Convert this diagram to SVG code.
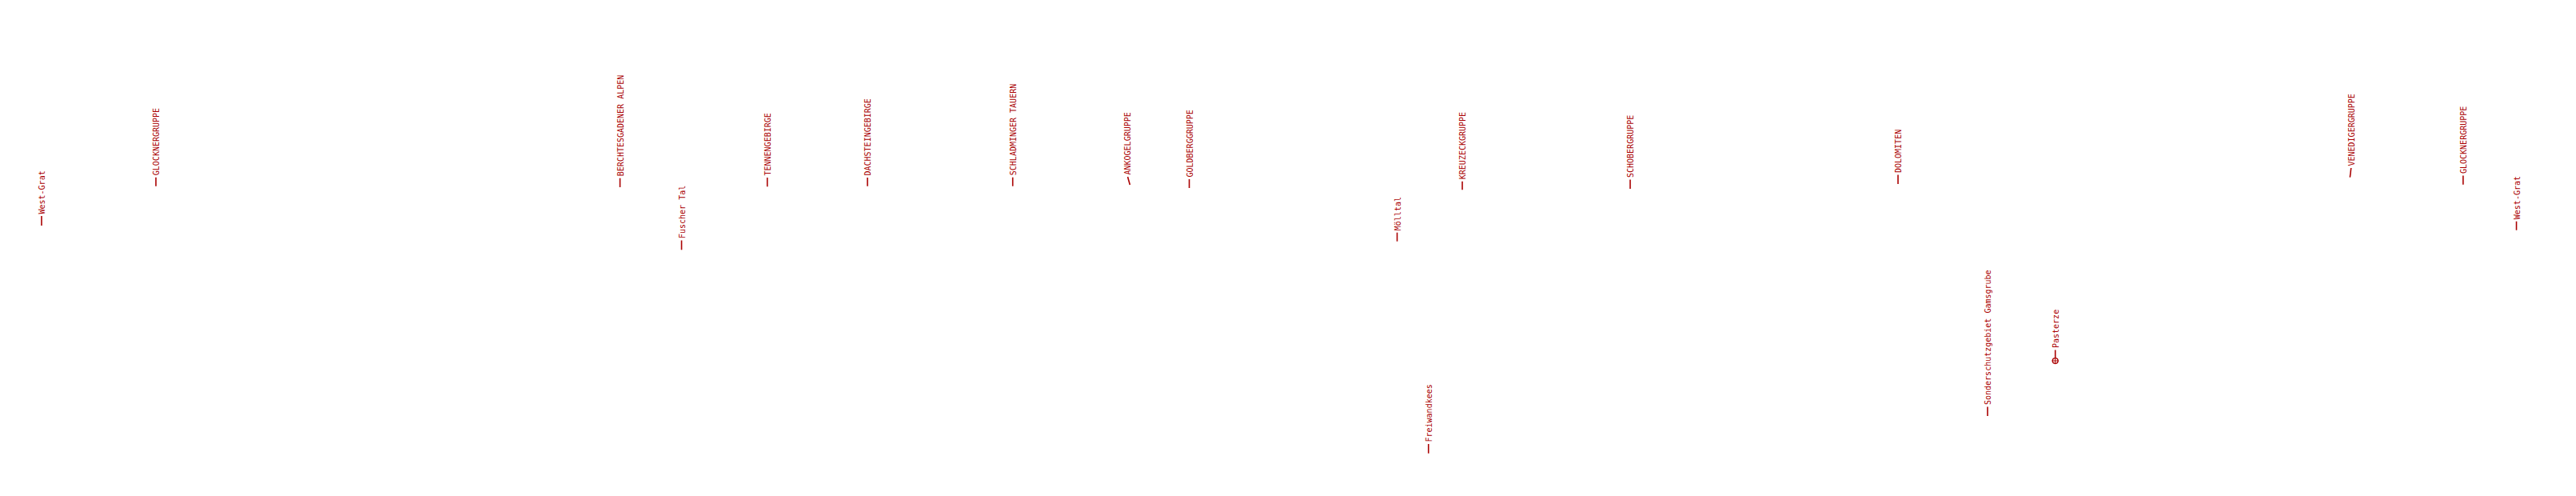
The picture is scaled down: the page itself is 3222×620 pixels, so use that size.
<svg xmlns="http://www.w3.org/2000/svg" width="3222" height="620" viewBox="0 0 3222 620">
<style>
.lbl{font-family:"DejaVu Sans Mono","Liberation Mono",monospace;font-size:10px;fill:#a00;}
.ld{stroke:#a00;stroke-width:1.6;fill:none;}
</style>
<rect width="3222" height="620" fill="#fff"/>
<g id="connectors">
<line class="ld" x1="52" y1="282" x2="52" y2="270"/>
<line class="ld" x1="195" y1="232.7" x2="195" y2="221.7"/>
<line class="ld" x1="775.5" y1="234" x2="775.5" y2="222.7"/>
<line class="ld" x1="852.5" y1="312.3" x2="852.5" y2="300.5"/>
<line class="ld" x1="959.7" y1="233.3" x2="959.7" y2="222"/>
<line class="ld" x1="1085" y1="232.7" x2="1085" y2="222"/>
<line class="ld" x1="1266.7" y1="232.7" x2="1266.7" y2="221.7"/>
<line class="ld" x1="1413.3" y1="231" x2="1410.5" y2="221"/>
<line class="ld" x1="1487.5" y1="235" x2="1487.5" y2="224"/>
<line class="ld" x1="1747.5" y1="301.7" x2="1747.5" y2="290.7"/>
<line class="ld" x1="1786.7" y1="566.7" x2="1786.7" y2="555"/>
<line class="ld" x1="1829" y1="237.3" x2="1829" y2="226.7"/>
<line class="ld" x1="2039" y1="236" x2="2039" y2="224.5"/>
<line class="ld" x1="2374" y1="230" x2="2374" y2="218.5"/>
<line class="ld" x1="2486" y1="520" x2="2486" y2="508.5"/>
<line class="ld" x1="2570.7" y1="447" x2="2570.7" y2="437.5"/>
<line class="ld" x1="2939.3" y1="221.7" x2="2940.7" y2="210"/>
<line class="ld" x1="3080.8" y1="230.7" x2="3080.8" y2="219.5"/>
<line class="ld" x1="3147.5" y1="287.7" x2="3147.5" y2="276.7"/>
</g>
<g id="marker-pasterze">
<circle cx="2570.7" cy="451" r="3.4" fill="none" stroke="#a00" stroke-width="1.4"/>
<line x1="2566.5" y1="451" x2="2574.9" y2="451" stroke="#a00" stroke-width="1"/>
<line x1="2570.7" y1="446.8" x2="2570.7" y2="455.2" stroke="#a00" stroke-width="1"/>
</g>
<g id="n1"><text class="lbl" transform="translate(56,267.5) rotate(-90)">West-Grat</text></g>
<g id="n2"><text class="lbl" transform="translate(199,219.2) rotate(-90)">GLOCKNERGRUPPE</text></g>
<g id="n3"><text class="lbl" transform="translate(779.5,220.2) rotate(-90)">BERCHTESGADENER ALPEN</text></g>
<g id="n4"><text class="lbl" transform="translate(856.5,298) rotate(-90)">Fuscher Tal</text></g>
<g id="n5"><text class="lbl" transform="translate(963.7,219.5) rotate(-90)">TENNENGEBIRGE</text></g>
<g id="n6"><text class="lbl" transform="translate(1089,219.5) rotate(-90)">DACHSTEINGEBIRGE</text></g>
<g id="n7"><text class="lbl" transform="translate(1270.7,219.2) rotate(-90)">SCHLADMINGER TAUERN</text></g>
<g id="n8"><text class="lbl" transform="translate(1414.3,218.5) rotate(-90)">ANKOGELGRUPPE</text></g>
<g id="n9"><text class="lbl" transform="translate(1491.5,221.5) rotate(-90)">GOLDBERGGRUPPE</text></g>
<g id="n10"><text class="lbl" transform="translate(1751.5,288.2) rotate(-90)">Mölltal</text></g>
<g id="n11"><text class="lbl" transform="translate(1790.7,552.5) rotate(-90)">Freiwandkees</text></g>
<g id="n12"><text class="lbl" transform="translate(1833,224.2) rotate(-90)">KREUZECKGRUPPE</text></g>
<g id="n13"><text class="lbl" transform="translate(2043,222) rotate(-90)">SCHOBERGRUPPE</text></g>
<g id="n14"><text class="lbl" transform="translate(2378,216) rotate(-90)">DOLOMITEN</text></g>
<g id="n15"><text class="lbl" transform="translate(2490,506) rotate(-90)">Sonderschutzgebiet Gamsgrube</text></g>
<g id="n16"><text class="lbl" transform="translate(2574.7,435) rotate(-90)">Pasterze</text></g>
<g id="n17"><text class="lbl" transform="translate(2944.7,207.5) rotate(-90)">VENEDIGERGRUPPE</text></g>
<g id="n18"><text class="lbl" transform="translate(3084.8,217) rotate(-90)">GLOCKNERGRUPPE</text></g>
<g id="n19"><text class="lbl" transform="translate(3151.5,274.2) rotate(-90)">West-Grat</text></g>
</svg>
